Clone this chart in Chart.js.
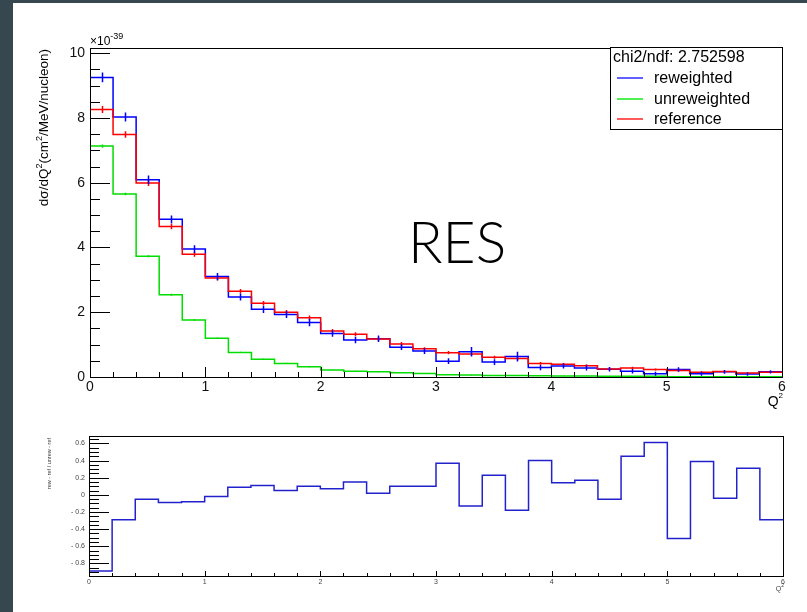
<!DOCTYPE html>
<html>
<head>
<meta charset="utf-8">
<script src="https://cdn.jsdelivr.net/npm/chart.js@4.4.0/dist/chart.umd.min.js"></script>
<style>
  html, body { margin: 0; padding: 0; width: 807px; height: 612px; overflow: hidden; background: #37474f; }
  #sheet { position: absolute; left: 13px; top: 3px; width: 794px; height: 609px; background: #fff; }
  canvas { position: absolute; left: 0; }
  #top { top: 0; }
  #bottom { top: 410px; }
</style>
</head>
<body>
<div id="sheet"></div>
<canvas id="top" width="807" height="410" style="width:807px;height:410px"></canvas>
<canvas id="bottom" width="807" height="202" style="width:807px;height:202px"></canvas>
<script>
// Q^2 histograms, 30 bins of 0.2 from 0 to 6. Cross sections in units of 1e-39.
const binWidth = 0.2;
const reweighted   = [9.25, 8.03, 6.09, 4.87, 3.95, 3.10, 2.47, 2.09, 1.93, 1.68, 1.34, 1.14, 1.18, 0.92, 0.80, 0.49, 0.78, 0.46, 0.63, 0.29, 0.34, 0.28, 0.24, 0.18, 0.10, 0.23, 0.10, 0.16, 0.09, 0.16];
const reference    = [8.26, 7.49, 5.99, 4.65, 3.79, 3.06, 2.65, 2.28, 2.00, 1.83, 1.42, 1.32, 1.17, 1.02, 0.87, 0.75, 0.71, 0.61, 0.57, 0.42, 0.39, 0.35, 0.25, 0.28, 0.23, 0.20, 0.15, 0.17, 0.12, 0.15];
const unreweighted = [7.13, 5.65, 3.73, 2.54, 1.76, 1.20, 0.76, 0.55, 0.42, 0.32, 0.22, 0.18, 0.16, 0.13, 0.11, 0.07, 0.06, 0.05, 0.05, 0.04, 0.03, 0.03, 0.02, 0.02, 0.02, 0.01, 0.01, 0.01, 0.01, 0.01];

// statistical error bars (half length, same units)
const reweightedErr   = [0.15, 0.14, 0.13, 0.12, 0.12, 0.11, 0.11, 0.11, 0.11, 0.11, 0.10, 0.10, 0.10, 0.09, 0.09, 0.09, 0.15, 0.09, 0.15, 0.08, 0.08, 0.08, 0.07, 0.07, 0.06, 0.07, 0.06, 0.06, 0.05, 0.05];
const referenceErr    = [0.11, 0.10, 0.09, 0.09, 0.08, 0.08, 0.07, 0.07, 0.07, 0.07, 0.06, 0.06, 0.06, 0.06, 0.05, 0.05, 0.05, 0.05, 0.05, 0.04, 0.04, 0.04, 0.04, 0.04, 0.03, 0.03, 0.03, 0.03, 0.03, 0.03];
const unreweightedErr = [0.05, 0.04, 0.03, 0.03, 0.03, 0.02, 0.02, 0.02, 0.02, 0.02, 0.01, 0.01, 0.01, 0.01, 0.01, 0.01, 0.01, 0.01, 0.01, 0.01, 0.01, 0.01, 0.01, 0.01, 0.01, 0.01, 0.01, 0.01, 0.01, 0.01];

// (rew - ref) / (unrew - ref), per bin
const ratio = [-0.89, -0.29, -0.05, -0.09, -0.08, -0.02, 0.09, 0.11, 0.05, 0.10, 0.07, 0.15, 0.02, 0.10, 0.10, 0.37, -0.13, 0.23, -0.18, 0.40, 0.14, 0.17, -0.05, 0.45, 0.61, -0.51, 0.39, -0.04, 0.31, -0.29];

const xTicks = [0, 1, 2, 3, 4, 5, 6];
const yTicksTop = [0, 2, 4, 6, 8, 10];
const yTicksRatio = [-0.8, -0.6, -0.4, -0.2, 0, 0.2, 0.4, 0.6];
const chiLabel = "chi2/ndf: 2.752598";

const FONT = "'Liberation Sans', Arial, sans-serif";

// histogram -> stepped line points (left edge of each bin, plus the closing edge)
function steps(values) {
  const pts = values.map((v, i) => ({ x: i * binWidth, y: v }));
  pts.push({ x: values.length * binWidth, y: values[values.length - 1] });
  return pts;
}

function isMultiple(v, step) {
  return Math.abs(v / step - Math.round(v / step)) < 1e-6;
}

// ROOT-ish frame with inward major/minor tick marks
function rootFrame(cfg) {
  return {
    id: "rootFrame",
    afterDatasetsDraw(chart) {
      const { ctx, chartArea: a, scales: { x, y } } = chart;
      ctx.save();
      ctx.strokeStyle = "#000";
      ctx.lineWidth = 1;
      ctx.beginPath();
      const nx = Math.round((x.max - x.min) / cfg.xMinor);
      for (let i = 0; i <= nx; i++) {
        const v = x.min + i * cfg.xMinor;
        const len = isMultiple(v, cfg.xMajor) ? cfg.xMajorLen : cfg.xMinorLen;
        const px = Math.round(x.getPixelForValue(v)) + 0.5;
        ctx.moveTo(px, a.bottom);
        ctx.lineTo(px, a.bottom - len);
      }
      const y0 = Math.ceil(y.min / cfg.yMinor - 1e-6);
      const y1 = Math.floor(y.max / cfg.yMinor + 1e-6);
      for (let k = y0; k <= y1; k++) {
        const v = k * cfg.yMinor;
        const len = isMultiple(v, cfg.yMajor) ? cfg.yMajorLen : cfg.yMinorLen;
        const py = Math.round(y.getPixelForValue(v)) + 0.5;
        ctx.moveTo(a.left, py);
        ctx.lineTo(a.left + len, py);
      }
      ctx.stroke();
      ctx.strokeRect(a.left + 0.5, a.top + 0.5, a.right - a.left, a.bottom - a.top);
      ctx.restore();
    }
  };
}

// vertical error bars at bin centres
const errorBars = {
  id: "errorBars",
  afterDatasetsDraw(chart) {
    const { ctx, scales: { x, y } } = chart;
    ctx.save();
    chart.data.datasets.forEach((ds) => {
      if (!ds.errors) return;
      ctx.strokeStyle = ds.borderColor;
      ctx.lineWidth = 1.5;
      ctx.beginPath();
      ds.values.forEach((v, i) => {
        const px = Math.round(x.getPixelForValue((i + 0.5) * binWidth)) + 0.5;
        ctx.moveTo(px, y.getPixelForValue(v + ds.errors[i]));
        ctx.lineTo(px, y.getPixelForValue(v - ds.errors[i]));
      });
      ctx.stroke();
    });
    ctx.restore();
  }
};

// text runs with superscripts: [text, size, dy]
function supText(ctx, parts, x, y) {
  parts.forEach(([txt, size, dy]) => {
    ctx.font = size + "px " + FONT;
    ctx.fillText(txt, x, y + dy);
    x += ctx.measureText(txt).width;
  });
  return x;
}
function supWidth(ctx, parts) {
  let w = 0;
  parts.forEach(([txt, size]) => { ctx.font = size + "px " + FONT; w += ctx.measureText(txt).width; });
  return w;
}

const topDecor = {
  id: "topDecor",
  afterDraw(chart) {
    const { ctx, chartArea: a } = chart;
    ctx.save();
    ctx.fillStyle = "#000";
    ctx.textAlign = "left";
    ctx.textBaseline = "alphabetic";

    // exponent
    supText(ctx, [["\u00d710", 12, 0], ["-39", 9, -6]], a.left, 45);

    // x title
    const qParts = [["Q", 14, 0], ["2", 8, -8]];
    supText(ctx, qParts, a.right + 1 - supWidth(ctx, qParts), 406);

    // y title, rotated, right-aligned to the top of the axis
    const yParts = [["d\u03c3/dQ", 13.5, 0], ["2", 9, -6], ["(cm", 13.5, 0], ["2", 9, -6], ["/MeV/nucleon)", 13.5, 0]];
    const yw = supWidth(ctx, yParts);
    ctx.translate(48, a.top + 1);
    ctx.rotate(-Math.PI / 2);
    supText(ctx, yParts, -yw, 0);
    ctx.setTransform(1, 0, 0, 1, 0, 0);

    // legend box
    const lx = 610.5, ly = a.top - 0.5, lw = a.right - 610, lh = 82;
    ctx.fillStyle = "#fff";
    ctx.fillRect(lx, ly, lw, lh);
    ctx.strokeStyle = "#000";
    ctx.lineWidth = 1;
    ctx.strokeRect(lx, ly, lw, lh);
    ctx.fillStyle = "#000";
    ctx.font = "16px " + FONT;
    ctx.fillText(chiLabel, 613, 62);
    const entries = [["reweighted", "#6060ff", 78], ["unreweighted", "#50f050", 99], ["reference", "#ff5a5a", 119]];
    entries.forEach(([label, color, ey]) => {
      ctx.strokeStyle = color;
      ctx.lineWidth = 2;
      ctx.beginPath();
      ctx.moveTo(617, ey);
      ctx.lineTo(643, ey);
      ctx.stroke();
      ctx.fillText(label, 654, ey + 5);
    });

    // process label
    ctx.font = "300 57px Lato, 'Open Sans', sans-serif";
    ctx.fillText("RES", 408, 263);
    ctx.restore();
  }
};

const bottomDecor = {
  id: "bottomDecor",
  afterDraw(chart) {
    const { ctx, chartArea: a } = chart;
    ctx.save();
    ctx.fillStyle = "#444";
    ctx.textBaseline = "alphabetic";
    const qParts = [["Q", 7, 0], ["2", 5, -4]];
    supText(ctx, qParts, a.right + 1 - supWidth(ctx, qParts), 181);
    ctx.font = "5.5px " + FONT;
    ctx.textAlign = "right";
    ctx.translate(51, a.top + 2);
    ctx.rotate(-Math.PI / 2);
    ctx.fillText("rew - ref / unrew - ref", 0, 0);
    ctx.restore();
  }
};

function fixedTicks(list) {
  return (scale) => { scale.ticks = list.map((v) => ({ value: v })); };
}

new Chart(document.getElementById("top"), {
  type: "line",
  data: {
    datasets: [
      { label: "reference", data: steps(reference), values: reference, errors: referenceErr,
        borderColor: "#ff0000", borderWidth: 1.5, order: 0 },
      { label: "unreweighted", data: steps(unreweighted), values: unreweighted, errors: unreweightedErr,
        borderColor: "#00dd00", borderWidth: 1.5, order: 1 },
      { label: "reweighted", data: steps(reweighted), values: reweighted, errors: reweightedErr,
        borderColor: "#0000ff", borderWidth: 1.5, order: 2 },
    ]
  },
  options: {
    responsive: false,
    animation: false,
    datasets: { line: { stepped: true, pointRadius: 0, fill: false } },
    layout: { padding: { left: 0, top: 48, right: 25, bottom: 0 } },
    plugins: { legend: { display: false }, tooltip: { enabled: false } },
    scales: {
      x: {
        type: "linear", min: 0, max: 6,
        afterBuildTicks: fixedTicks(xTicks),
        afterFit: (s) => { s.height = 33; },
        grid: { display: false, drawTicks: false },
        border: { display: false },
        ticks: { padding: 2, color: "#111", font: { family: FONT, size: 14 }, maxRotation: 0 }
      },
      y: {
        type: "linear", min: 0, max: 10.16,
        afterBuildTicks: fixedTicks(yTicksTop),
        afterFit: (s) => { s.width = 90; },
        grid: { display: false, drawTicks: false },
        border: { display: false },
        ticks: { padding: 5, color: "#111", font: { family: FONT, size: 14 } }
      }
    }
  },
  plugins: [errorBars, rootFrame({ xMinor: 0.2, xMajor: 1, xMajorLen: 10, xMinorLen: 5,
                                   yMinor: 0.5, yMajor: 2, yMajorLen: 20, yMinorLen: 10 }), topDecor]
});

new Chart(document.getElementById("bottom"), {
  type: "line",
  data: {
    datasets: [
      { label: "ratio", data: steps(ratio), borderColor: "#2222cc", borderWidth: 1.5 }
    ]
  },
  options: {
    responsive: false,
    animation: false,
    datasets: { line: { stepped: true, pointRadius: 0, fill: false } },
    layout: { padding: { left: 0, top: 26, right: 24, bottom: 0 } },
    plugins: { legend: { display: false }, tooltip: { enabled: false } },
    scales: {
      x: {
        type: "linear", min: 0, max: 6,
        afterBuildTicks: fixedTicks(xTicks),
        afterFit: (s) => { s.height = 36; },
        grid: { display: false, drawTicks: false },
        border: { display: false },
        ticks: { padding: 2, color: "#444", font: { family: FONT, size: 7 }, maxRotation: 0 }
      },
      y: {
        type: "linear", min: -0.947, max: 0.687,
        afterBuildTicks: fixedTicks(yTicksRatio),
        afterFit: (s) => { s.width = 89; },
        grid: { display: false, drawTicks: false },
        border: { display: false },
        ticks: {
          padding: 4, color: "#444", font: { family: FONT, size: 7 },
          callback: (v) => v === 0 ? "0" : (v < 0 ? "- " + (-v).toFixed(1) : v.toFixed(1))
        }
      }
    }
  },
  plugins: [rootFrame({ xMinor: 0.2, xMajor: 1, xMajorLen: 5, xMinorLen: 3,
                        yMinor: 0.05, yMajor: 0.2, yMajorLen: 20, yMinorLen: 10 }), bottomDecor]
});
</script>
</body>
</html>
